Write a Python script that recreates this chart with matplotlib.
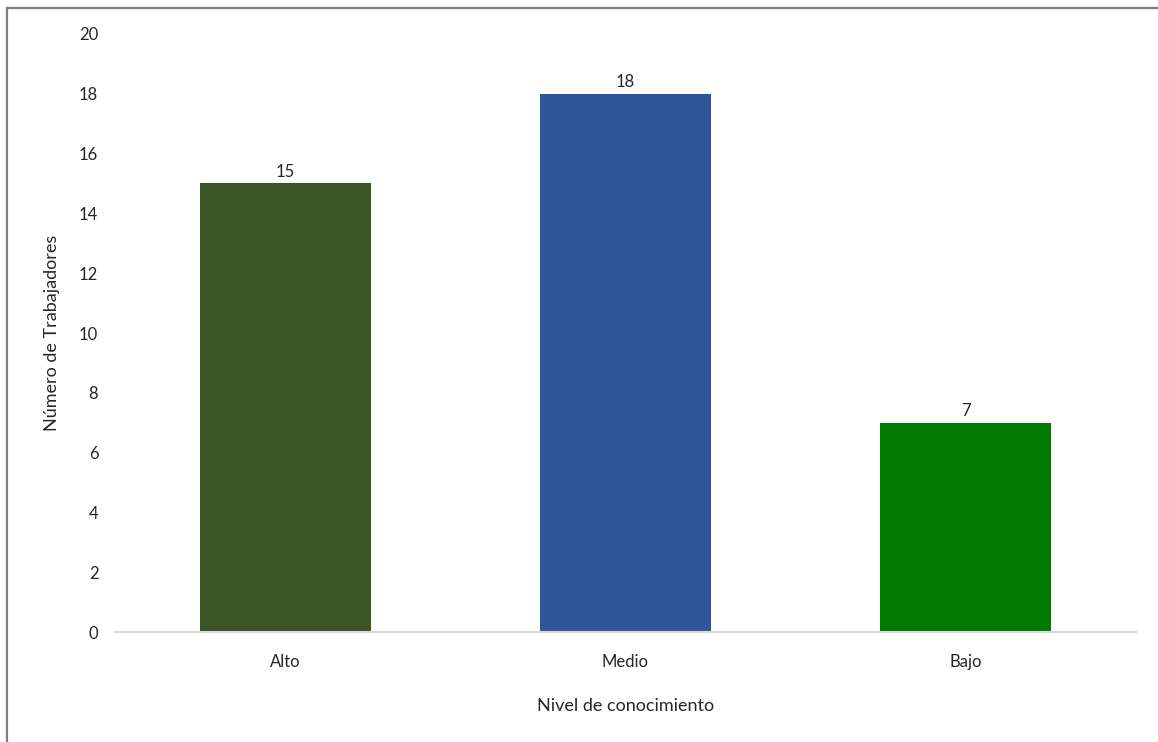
import matplotlib
matplotlib.use("Agg")
from matplotlib import pyplot as plt
from matplotlib.lines import Line2D

niveles = ["Alto", "Medio", "Bajo"]
trabajadores = [15, 18, 7]
colores = ["#3B5624", "#2E5597", "#017A01"]

plt.rcParams['font.family'] = ['Lato', 'DejaVu Sans']

fig = plt.figure(figsize=(11.58, 7.42), dpi=100)
ax = fig.add_axes([0.0993, 0.1482, 0.8817, 0.806])

x = range(len(niveles))
bars = ax.bar(x, trabajadores, width=0.503, color=colores, zorder=2)
for b, v in zip(bars, trabajadores):
    ax.text(b.get_x() + b.get_width() / 2, v + 0.12, str(v),
            ha='center', va='bottom', fontsize=12, color='#262626')

ax.set_xlim(-0.5, 2.5)
ax.set_ylim(0, 20)
ax.set_yticks(range(0, 21, 2))
ax.set_xticks(list(x))
ax.set_xticklabels(niveles)
ax.tick_params(axis='both', length=0, labelsize=12, colors='#262626')
ax.tick_params(axis='y', pad=12)
ax.tick_params(axis='x', pad=16)

for s in ['top', 'right', 'left']:
    ax.spines[s].set_visible(False)
ax.spines['bottom'].set_color('#d9d9d9')
ax.spines['bottom'].set_linewidth(1.5)

ax.set_ylabel('Número de Trabajadores', fontsize=13, color='#262626', labelpad=14)
ax.set_xlabel('Nivel de conocimiento', fontsize=13, color='#262626', labelpad=20)

# gray frame along top and left edge
fig.add_artist(Line2D([7 / 1158, 1.0], [1 - 8 / 742, 1 - 8 / 742],
                      transform=fig.transFigure, color='#7f7f7f', linewidth=1.6))
fig.add_artist(Line2D([7 / 1158, 7 / 1158], [0.0, 1 - 8 / 742],
                      transform=fig.transFigure, color='#7f7f7f', linewidth=1.6))

fig.savefig('out.png', dpi=100)
